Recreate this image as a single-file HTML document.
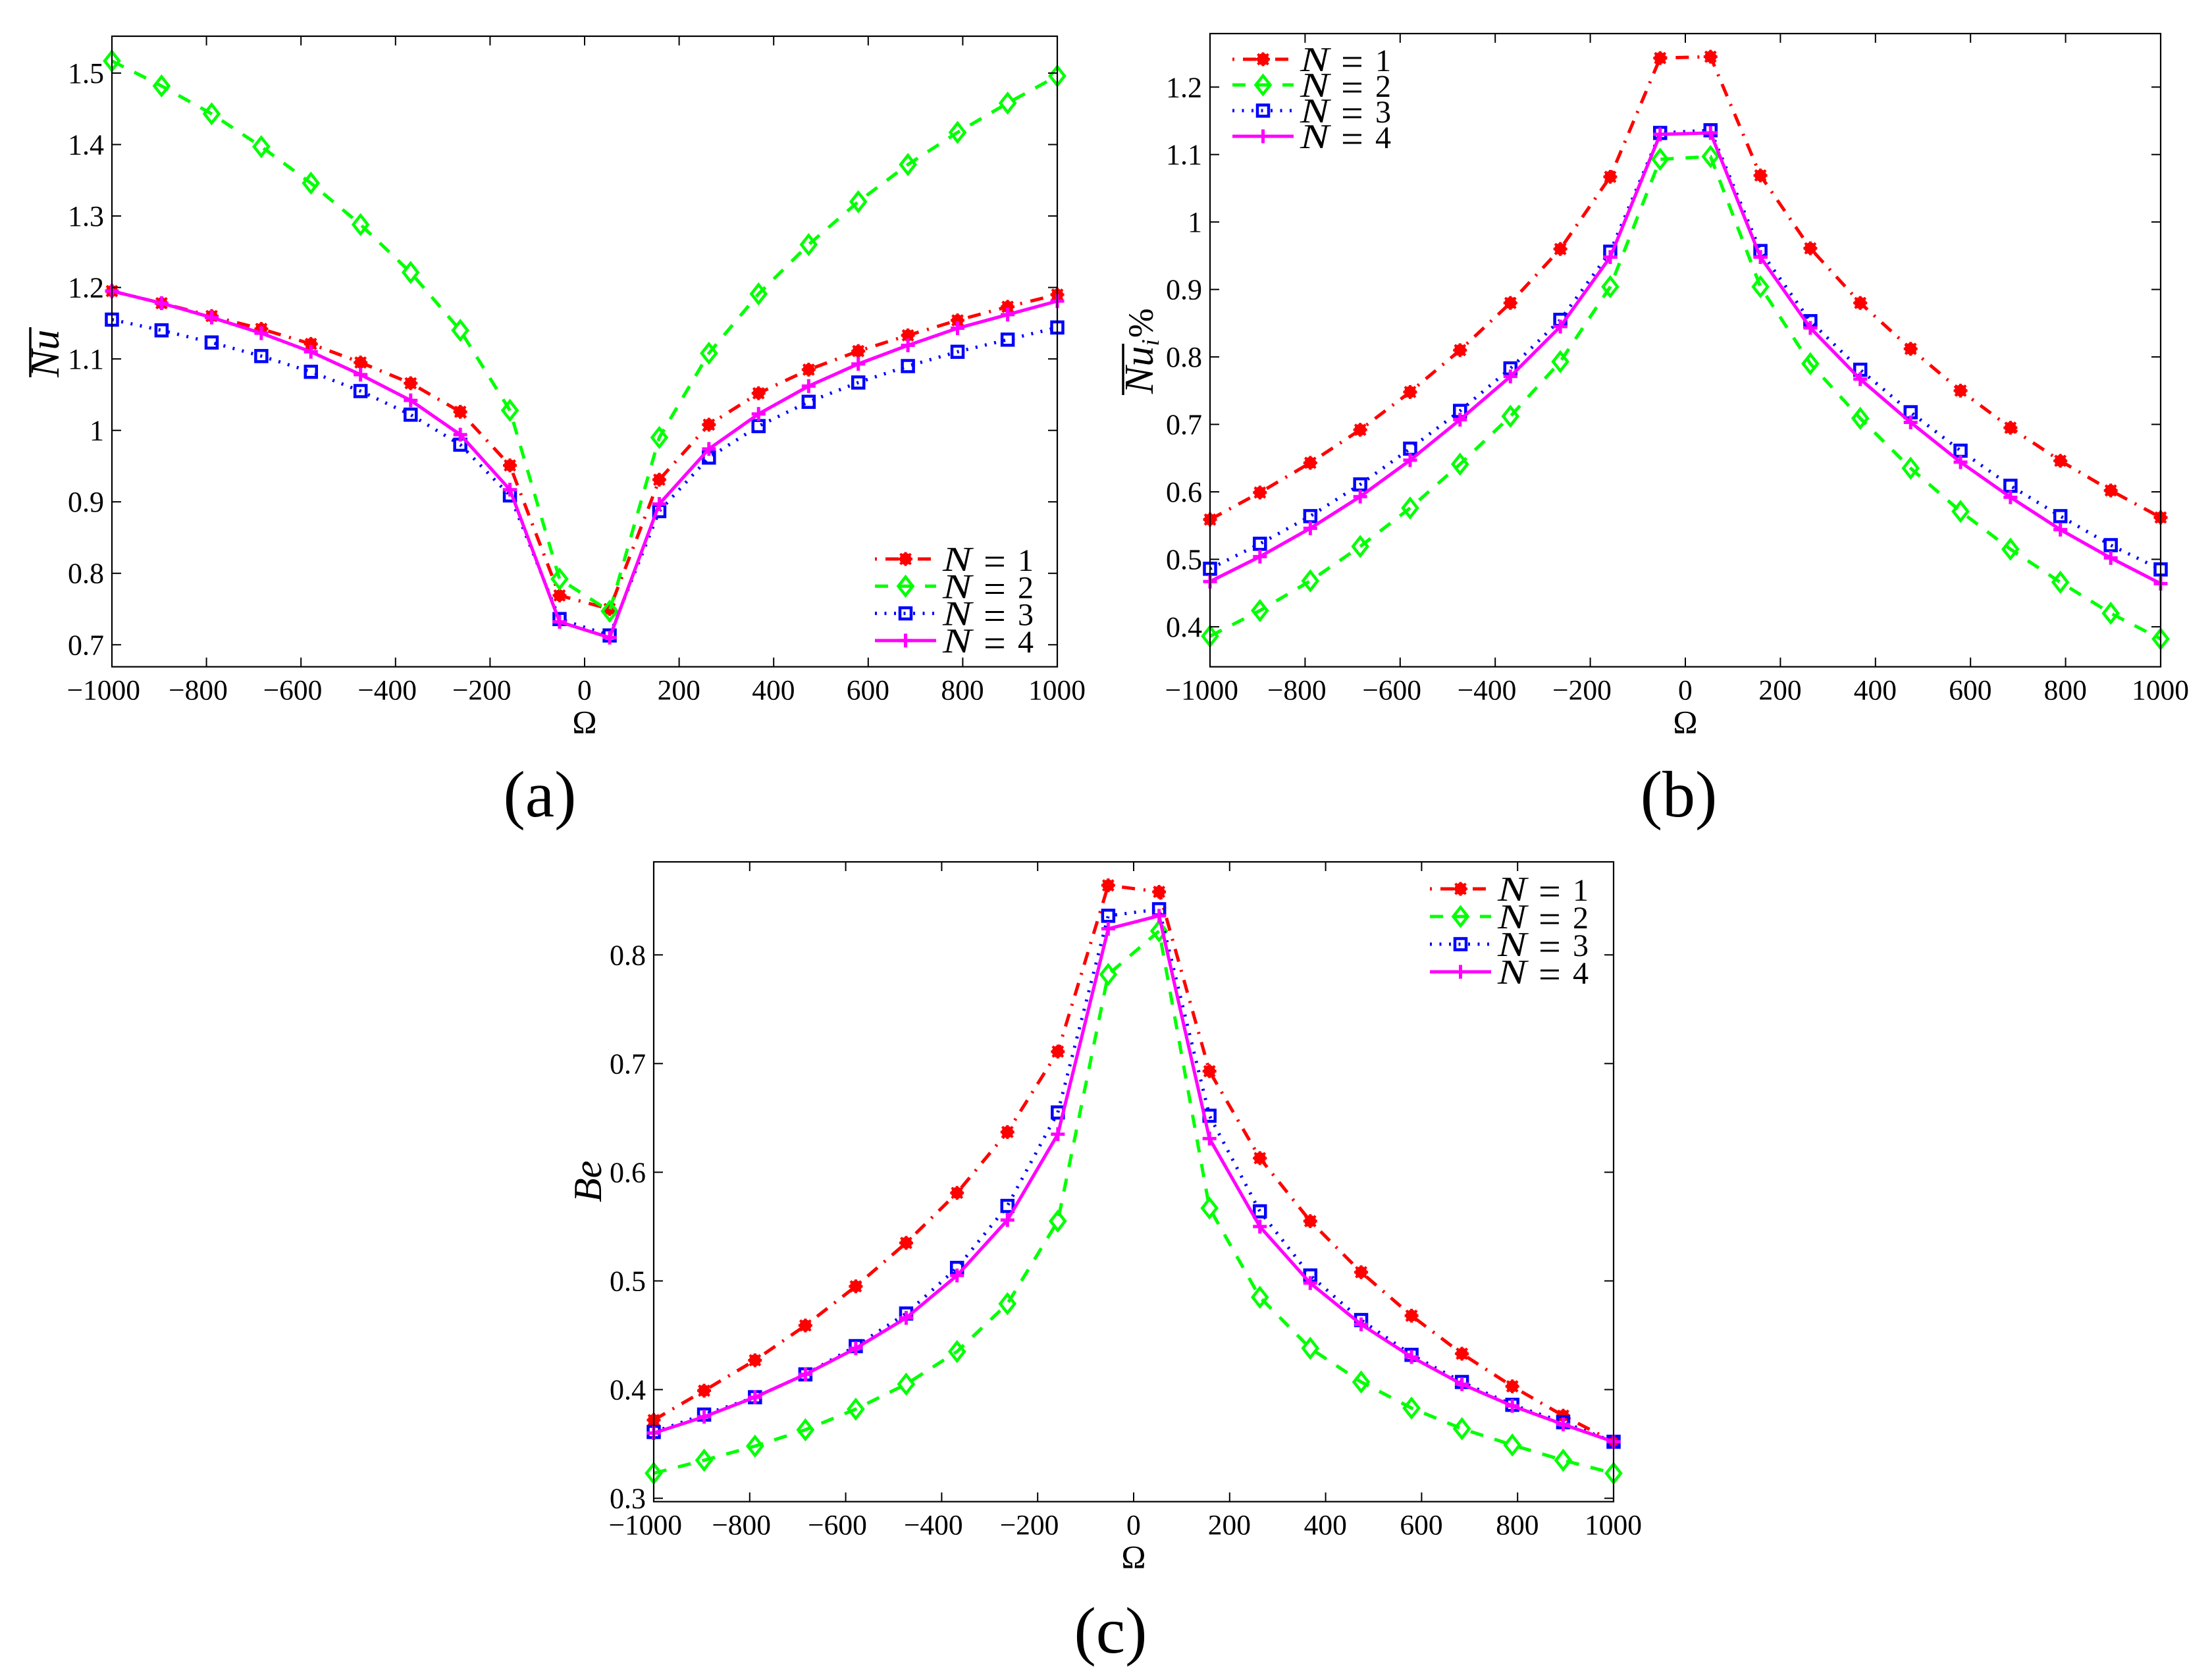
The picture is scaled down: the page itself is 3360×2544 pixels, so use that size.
<!DOCTYPE html>
<html lang="en">
<head>
<meta charset="utf-8">
<title>Nusselt and Bejan number versus rotation, panels a, b and c</title>
<style>
html,body{margin:0;padding:0;background:#fff;width:3360px;height:2544px;overflow:hidden}
svg{display:block}
text{font-family:"Liberation Serif",serif;fill:#000}
</style>
</head>
<body>
<svg id="figure" xmlns="http://www.w3.org/2000/svg" width="3360" height="2544" viewBox="0 0 3360 2544"></svg>
<script>
// ---------- data ----------
const omega = [-1000,-895,-789,-684,-579,-474,-368,-263,-158,-53,53,158,263,368,474,579,684,789,895,1000];
const xTickValues = [-1000,-800,-600,-400,-200,0,200,400,600,800,1000];
const legendLabels = ['1','2','3','4'];

const nuN1 = [1.195,1.178,1.160,1.142,1.121,1.095,1.066,1.026,0.951,0.769,0.750,0.931,1.008,1.052,1.085,1.111,1.133,1.154,1.173,1.190];
const nuN2 = [1.517,1.482,1.443,1.397,1.346,1.288,1.221,1.140,1.028,0.792,0.747,0.990,1.108,1.191,1.260,1.320,1.372,1.417,1.458,1.496];
const nuN3 = [1.155,1.140,1.123,1.104,1.082,1.055,1.022,0.980,0.909,0.736,0.713,0.887,0.962,1.006,1.040,1.067,1.090,1.110,1.127,1.144];
const nuN4 = [1.195,1.178,1.158,1.136,1.110,1.078,1.042,0.994,0.917,0.732,0.710,0.897,0.974,1.023,1.062,1.093,1.119,1.143,1.162,1.181];
const nuTicks = [0.7,0.8,0.9,1,1.1,1.2,1.3,1.4,1.5];

const nuiN1 = [0.559,0.599,0.643,0.692,0.748,0.810,0.880,0.960,1.067,1.243,1.245,1.069,0.961,0.880,0.812,0.750,0.695,0.646,0.602,0.562];
const nuiN2 = [0.386,0.424,0.468,0.519,0.576,0.641,0.712,0.793,0.904,1.093,1.097,0.904,0.790,0.709,0.635,0.571,0.515,0.466,0.420,0.382];
const nuiN3 = [0.486,0.523,0.564,0.611,0.664,0.720,0.783,0.855,0.956,1.132,1.136,0.957,0.853,0.781,0.718,0.661,0.609,0.564,0.521,0.485];
const nuiN4 = [0.467,0.504,0.546,0.593,0.647,0.707,0.771,0.845,0.948,1.130,1.132,0.948,0.843,0.767,0.703,0.644,0.592,0.544,0.502,0.464];
const nuiTicks = [0.4,0.5,0.6,0.7,0.8,0.9,1,1.1,1.2];

const beN1 = [0.372,0.399,0.427,0.459,0.495,0.535,0.581,0.637,0.711,0.864,0.858,0.693,0.613,0.555,0.508,0.468,0.433,0.403,0.376,0.352];
const beN2 = [0.323,0.335,0.348,0.363,0.382,0.405,0.435,0.479,0.555,0.782,0.822,0.567,0.485,0.438,0.407,0.383,0.364,0.349,0.335,0.323];
const beN3 = [0.361,0.377,0.393,0.414,0.440,0.470,0.512,0.569,0.655,0.836,0.842,0.652,0.564,0.505,0.464,0.432,0.407,0.386,0.370,0.352];
const beN4 = [0.360,0.375,0.393,0.414,0.438,0.466,0.505,0.556,0.635,0.824,0.836,0.631,0.550,0.498,0.460,0.430,0.405,0.385,0.368,0.352];
const beTicks = [0.3,0.4,0.5,0.6,0.7,0.8];

// ---------- layout ----------
const NS = 'http://www.w3.org/2000/svg';
const svg = document.getElementById('figure');
const panels = [
  {id:'a', left:170, right:1606, top:55, bottom:1012.7, yMin:0.6692, yMax:1.5516, series:[nuN1,nuN2,nuN3,nuN4], ticks:nuTicks,
   legendX:1329, legendY:849, legendStep:41.3, capX:820, capY:1240},
  {id:'b', left:1838, right:3282, top:51, bottom:1012.7, yMin:0.3407, yMax:1.2793, series:[nuiN1,nuiN2,nuiN3,nuiN4], ticks:nuiTicks,
   legendX:1872, legendY:90, legendStep:39, capX:2550, capY:1240},
  {id:'c', left:993, right:2451, top:1309, bottom:2280.7, yMin:0.2969, yMax:0.8856, series:[beN1,beN2,beN3,beN4], ticks:beTicks,
   legendX:2172, legendY:1350, legendStep:42, capX:1687, capY:2510}
];
const seriesStyles = [
  {color:'#ff0000', dash:'20 13 3 13', legendOffset:33, marker:'star'},
  {color:'#00ff00', dash:'20 18', legendOffset:0, marker:'diamond'},
  {color:'#0000ff', dash:'3 11.5', legendOffset:0, marker:'square'},
  {color:'#ff00ff', dash:'', legendOffset:0, marker:'plus'}
];

function el(tag, attrs, parent, txt){
  const e = document.createElementNS(NS, tag);
  for (const k in attrs) e.setAttribute(k, attrs[k]);
  if (txt !== undefined) e.textContent = txt;
  (parent || svg).appendChild(e);
  return e;
}
function scaleX(p, v){ return p.left + (v + 1000) / 2000 * (p.right - p.left); }
function scaleY(p, v){ return p.bottom - (v - p.yMin) / (p.yMax - p.yMin) * (p.bottom - p.top); }

function drawMarker(parent, kind, color, x, y){
  const g = el('g', {stroke:color, fill:'none'}, parent);
  
  
  if (kind === 'star'){
    el('circle', {cx:x, cy:y, r:9, fill:color, stroke:'none'}, g);
    el('line', {x1:x-10.5, y1:y, x2:x+10.5, y2:y, 'stroke-width':4}, g);
    el('line', {x1:x, y1:y-10.5, x2:x, y2:y+10.5, 'stroke-width':4}, g);
    el('line', {x1:x-8, y1:y-8, x2:x+8, y2:y+8, 'stroke-width':4}, g);
    el('line', {x1:x-8, y1:y+8, x2:x+8, y2:y-8, 'stroke-width':4}, g);
  } else if (kind === 'diamond'){
    el('path', {d:'M'+x+' '+(y-14)+'L'+(x+11)+' '+y+'L'+x+' '+(y+14)+'L'+(x-11)+' '+y+'Z', 'stroke-width':4.5}, g);
  } else if (kind === 'square'){
    el('rect', {x:x-8.5, y:y-8.5, width:17, height:17, 'stroke-width':4.5}, g);
  } else {
    el('line', {x1:x-10.5, y1:y, x2:x+10.5, y2:y, 'stroke-width':5}, g);
    el('line', {x1:x, y1:y-10.5, x2:x, y2:y+10.5, 'stroke-width':5}, g);
  }
}

function drawAxes(p, g){
  const tickLen = 14;
  xTickValues.forEach(function(v){
    const x = scaleX(p, v);
    const bt = el('line', {x1:x, y1:p.bottom, x2:x, y2:p.bottom-tickLen, stroke:'#000', 'stroke-width':2}, g);
    
    
    const tt = el('line', {x1:x, y1:p.top, x2:x, y2:p.top+tickLen, stroke:'#000', 'stroke-width':2}, g);
    
    
    const digits = String(Math.abs(v));
    const label = el('text', {x:x + digits.length*21.5/2, y:p.bottom+50, 'text-anchor':'end', 'font-size':43.5}, g, (v<0?'\u2212':'') + digits);
    
    
  });
  p.ticks.forEach(function(v){
    const y = scaleY(p, v);
    const lt = el('line', {x1:p.left, y1:y, x2:p.left+tickLen, y2:y, stroke:'#000', 'stroke-width':2}, g);
    
    
    const rt = el('line', {x1:p.right, y1:y, x2:p.right-tickLen, y2:y, stroke:'#000', 'stroke-width':2}, g);
    
    
    const label = el('text', {x:p.left-12, y:y+15, 'text-anchor':'end', 'font-size':44}, g, String(v));
    
    
  });
  const frame = el('rect', {x:p.left, y:p.top, width:p.right-p.left, height:p.bottom-p.top, fill:'none', stroke:'#000', 'stroke-width':2.2}, g);
  
  
  const xt = el('text', {x:(p.left+p.right)/2, y:p.bottom+101, 'text-anchor':'middle', 'font-size':50}, g, '\u03A9');
  
  
}

function drawSeries(p, g){
  p.series.forEach(function(values, i){
    const st = seriesStyles[i];
    const pts = values.map(function(v, j){ return scaleX(p, omega[j]) + ',' + scaleY(p, v); }).join(' ');
    const line = el('polyline', {points:pts, fill:'none', stroke:st.color, 'stroke-width':5, 'stroke-linejoin':'miter'}, g);
    if (st.dash) line.setAttribute('stroke-dasharray', st.dash);
    
    
    values.forEach(function(v, j){
      drawMarker(g, st.marker, st.color, scaleX(p, omega[j]), scaleY(p, v));
    });
  });
}

function drawLegend(p, g){
  const lg = el('g', {}, g);
  
  
  legendLabels.forEach(function(lab, i){
    const st = seriesStyles[i];
    const y = p.legendY + i * p.legendStep;
    const x0 = p.legendX;
    const entry = el('g', {}, lg);
    
    
    const sample = el('line', {x1:x0, y1:y, x2:x0+93, y2:y, stroke:st.color, 'stroke-width':5}, entry);
    if (st.dash) sample.setAttribute('stroke-dasharray', st.dash);
    if (st.legendOffset) sample.setAttribute('stroke-dashoffset', st.legendOffset);
    
    
    drawMarker(entry, st.marker, st.color, x0+46.5, y);
    const nameText = el('text', {x:x0+103, y:y+18, 'font-size':53, 'font-style':'italic', textLength:44, lengthAdjust:'spacingAndGlyphs'}, entry, 'N');
    
    
    const eqText = el('text', {x:x0+165, y:y+24, 'font-size':60}, entry, '=');
    
    
    const numText = el('text', {x:x0+217, y:y+18, 'font-size':48}, entry, lab);
    
    
  });
}

panels.forEach(function(p){
  const g = el('g', {});
  
  
  drawSeries(p, g);
  drawAxes(p, g);
  drawLegend(p, g);
  const cap = el('text', {x:p.capX, y:p.capY, 'text-anchor':'middle', 'font-size':100}, g, '(' + p.id + ')');
  
  
});

// ---------- y-axis titles ----------
const titleA = el('text', {transform:'translate(89,573) rotate(-90)', 'font-size':62, 'font-style':'italic'}, svg, 'Nu');


const barA = el('line', {x1:46, y1:497, x2:46, y2:573, stroke:'#000', 'stroke-width':3.5});



const titleB = el('text', {transform:'translate(1751,598) rotate(-90)', 'font-size':62}, svg);


el('tspan', {'font-style':'italic'}, titleB, 'Nu');
el('tspan', {'font-style':'italic', 'font-size':38, dy:9}, titleB, 'i');
el('tspan', {dy:-9, dx:2, 'font-size':54}, titleB, '%');
const barB = el('line', {x1:1706, y1:522, x2:1706, y2:600, stroke:'#000', 'stroke-width':3.5});



const titleC = el('text', {transform:'translate(913,1826) rotate(-90)', 'font-size':60, 'font-style':'italic'}, svg, 'Be');


</script>
</body>
</html>
